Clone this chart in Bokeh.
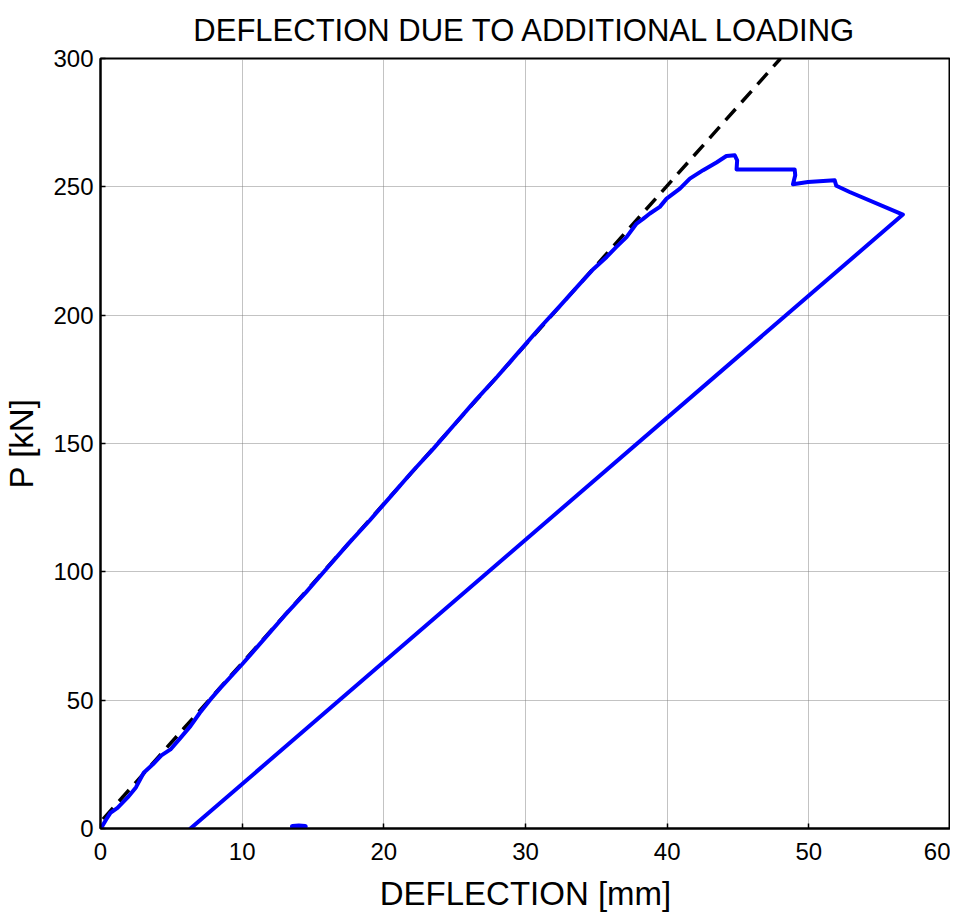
from bokeh.plotting import figure
from bokeh.models import Range1d, FixedTicker, LinearAxis
from bokeh.embed import file_html
from bokeh.resources import INLINE

# ---- data ----
x_ticks = [0, 10, 20, 30, 40, 50, 60]
y_ticks = [0, 50, 100, 150, 200, 250, 300]

load_x = [0.0, 0.12, 0.4, 0.7, 1.2, 1.9, 2.5, 3.05, 3.7, 4.3, 4.94, 5.6, 6.35, 7.0, 7.76,
          8.5, 10.0, 11.5, 13.0, 14.5, 16.0, 17.5, 19.0, 20.5, 22.0, 23.5, 25.0, 26.5, 28.0,
          29.5, 31.0, 32.5, 33.8, 34.8, 35.73, 36.4, 37.13, 37.84, 38.3, 38.78, 39.48, 39.96,
          40.9, 41.6, 42.54, 43.48, 44.18, 44.77, 44.94, 44.9, 49.0, 49.04, 48.88, 49.94,
          51.82, 51.94, 52.88, 56.64, 6.35]
load_y = [0.0, 0.9, 3.5, 6.1, 8.0, 12.0, 16.0, 21.7, 25.0, 28.5, 30.8, 35.0, 39.9, 45.0, 50.3,
          55.0, 64.0, 73.5, 83.0, 92.0, 101.5, 111.0, 120.0, 129.5, 139.0, 148.0, 157.5, 167.0,
          176.0, 185.5, 195.0, 204.0, 212.0, 218.0, 222.7, 226.5, 230.4, 235.7, 237.5, 239.6,
          242.2, 245.4, 249.3, 253.2, 256.5, 259.5, 262.0, 262.3, 260.3, 256.8, 256.8, 254.5,
          251.0, 251.9, 252.6, 250.4, 248.0, 239.2, 0.0]

blob_x = [13.55, 14.0, 14.45]
blob_y = [0.8, 1.0, 0.8]

fit_x = [-3.2, 48.0]
fit_y = [-17.3, 300.0]

SANS = "Liberation Sans"

p = figure(width=950, height=914, output_backend="svg", toolbar_location=None,
           x_range=Range1d(0, 60), y_range=Range1d(0, 300),
           x_axis_location=None, y_axis_location=None,
           min_border_left=10, min_border_right=0, min_border_top=5, min_border_bottom=10,
           title="DEFLECTION DUE TO ADDITIONAL LOADING")

p.title.text_font = SANS
p.title.text_font_size = "31px"
p.title.text_font_style = "normal"
p.title.text_color = "black"
p.title.align = "center"
p.title.standoff = 21

p.outline_line_color = "black"
p.outline_line_width = 2
p.background_fill_color = "white"
p.border_fill_color = "white"


def make_axis(ticks, label):
    ax = LinearAxis(ticker=FixedTicker(ticks=ticks))
    ax.axis_line_width = 2
    ax.axis_line_color = "black"
    ax.major_tick_in = 5
    ax.major_tick_out = 0
    ax.major_tick_line_width = 1.5
    ax.minor_tick_line_color = None
    ax.major_label_text_font = SANS
    ax.major_label_text_font_size = "24px"
    ax.major_label_text_color = "black"
    ax.axis_label = label
    ax.axis_label_text_font = SANS
    ax.axis_label_text_font_size = "33px"
    ax.axis_label_text_font_style = "normal"
    ax.axis_label_text_color = "black"
    return ax


xb = make_axis(x_ticks, "DEFLECTION [mm]")
xb.major_label_standoff = 14
xb.axis_label_standoff = 12
yl = make_axis(y_ticks, "P [kN]")
yl.major_label_standoff = 7
yl.axis_label_standoff = 10

p.add_layout(xb, "below")
p.add_layout(yl, "left")

p.xgrid.ticker = FixedTicker(ticks=x_ticks)
p.ygrid.ticker = FixedTicker(ticks=y_ticks)
for g in (p.xgrid, p.ygrid):
    g.grid_line_color = "#7a7a7a"
    g.grid_line_width = 1
    g.grid_line_dash = "1 1"
    g.grid_line_alpha = 0.9

p.line(fit_x, fit_y, line_color="black", line_width=3.5, line_dash="15 9")
p.line(load_x, load_y, line_color="#0000ff", line_width=4, line_join="round", line_cap="round")
p.line(blob_x, blob_y, line_color="#0000ff", line_width=5, line_cap="round")

open("out.html", "w").write(file_html(p, INLINE))
